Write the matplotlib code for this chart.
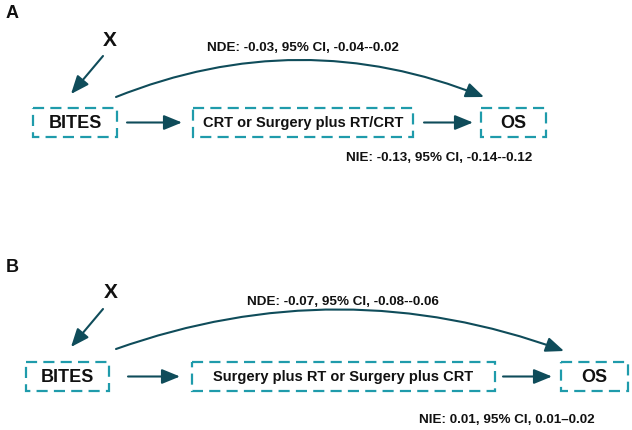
import matplotlib
matplotlib.use("Agg")
import matplotlib.pyplot as plt
from matplotlib.patches import FancyArrowPatch, Rectangle

plt.rcParams['font.family'] = ['Liberation Sans', 'DejaVu Sans']

panel_labels = ["A", "B"]
exposure = ["BITES", "BITES"]
mediators = ["CRT or Surgery plus RT/CRT", "Surgery plus RT or Surgery plus CRT"]
outcome = ["OS", "OS"]
confounder = ["X", "X"]
nde_labels = ["NDE: -0.03, 95% CI, -0.04--0.02", "NDE: -0.07, 95% CI, -0.08--0.06"]
nie_labels = ["NIE: -0.13, 95% CI, -0.14--0.12", "NIE: 0.01, 95% CI, 0.01\u20130.02"]

BOX_C = "#1f9bab"
ARR_C = "#0f4c5a"

# layout (pixel coordinates in a 632x430 canvas)
layouts = [
    dict(label=(12, 13), x=(110, 40), xarr=((103, 56), (71, 94)),
         ex=(33, 117), med=(193, 413), out=(481, 546), ytop=108, ybot=137,
         a1=(127, 182), a2=(424, 473),
         curve=((116, 97), (484, 97)), rad=-0.2,
         nde=(303, 48), nie=(439, 158)),
    dict(label=(12, 268), x=(111, 293), xarr=((103, 309), (71, 347)),
         ex=(26, 109), med=(192, 495), out=(561, 628), ytop=362, ybot=391,
         a1=(128, 180), a2=(503, 552),
         curve=((116, 349), (564, 351)), rad=-0.18,
         nde=(343, 302), nie=(507, 420)),
]

fig = plt.figure(figsize=(6.32, 4.30), dpi=100)
ax = fig.add_axes([0, 0, 1, 1])
ax.set_xlim(0, 632)
ax.set_ylim(430, 0)
ax.axis("off")


def dbox(x0, x1, y0, y1):
    r = Rectangle((x0, y0), x1 - x0, y1 - y0, fill=False, edgecolor=BOX_C,
                  lw=1.6, linestyle=(0, (5, 2.8)))
    ax.add_patch(r)


def arrow(p0, p1, rad=0.0):
    a = FancyArrowPatch(p0, p1, arrowstyle="-|>,head_length=1.1,head_width=0.45",
                        mutation_scale=10, color=ARR_C, lw=1.5,
                        connectionstyle=f"arc3,rad={rad}", shrinkA=0, shrinkB=0)
    ax.add_patch(a)


tk = dict(fontweight="bold", color="#111111", ha="center", va="center")
for i, L in enumerate(layouts):
    ax.text(*L["label"], panel_labels[i], fontsize=13, **tk)
    ax.text(*L["x"], confounder[i], fontsize=15, **tk)
    arrow(*L["xarr"])
    yc = (L["ytop"] + L["ybot"]) / 2
    for (x0, x1), name, fs in [(L["ex"], exposure[i], 13),
                               (L["med"], mediators[i], 10.5),
                               (L["out"], outcome[i], 13)]:
        dbox(x0, x1, L["ytop"], L["ybot"])
        ax.text((x0 + x1) / 2, yc + 0.5, name, fontsize=fs, **tk)
    arrow((L["a1"][0], yc), (L["a1"][1], yc))
    arrow((L["a2"][0], yc), (L["a2"][1], yc))
    arrow(L["curve"][0], L["curve"][1], rad=L["rad"])
    ax.text(*L["nde"], nde_labels[i], fontsize=9.7, **tk)
    ax.text(*L["nie"], nie_labels[i], fontsize=9.7, **tk)

fig.savefig("out.png", dpi=100)
